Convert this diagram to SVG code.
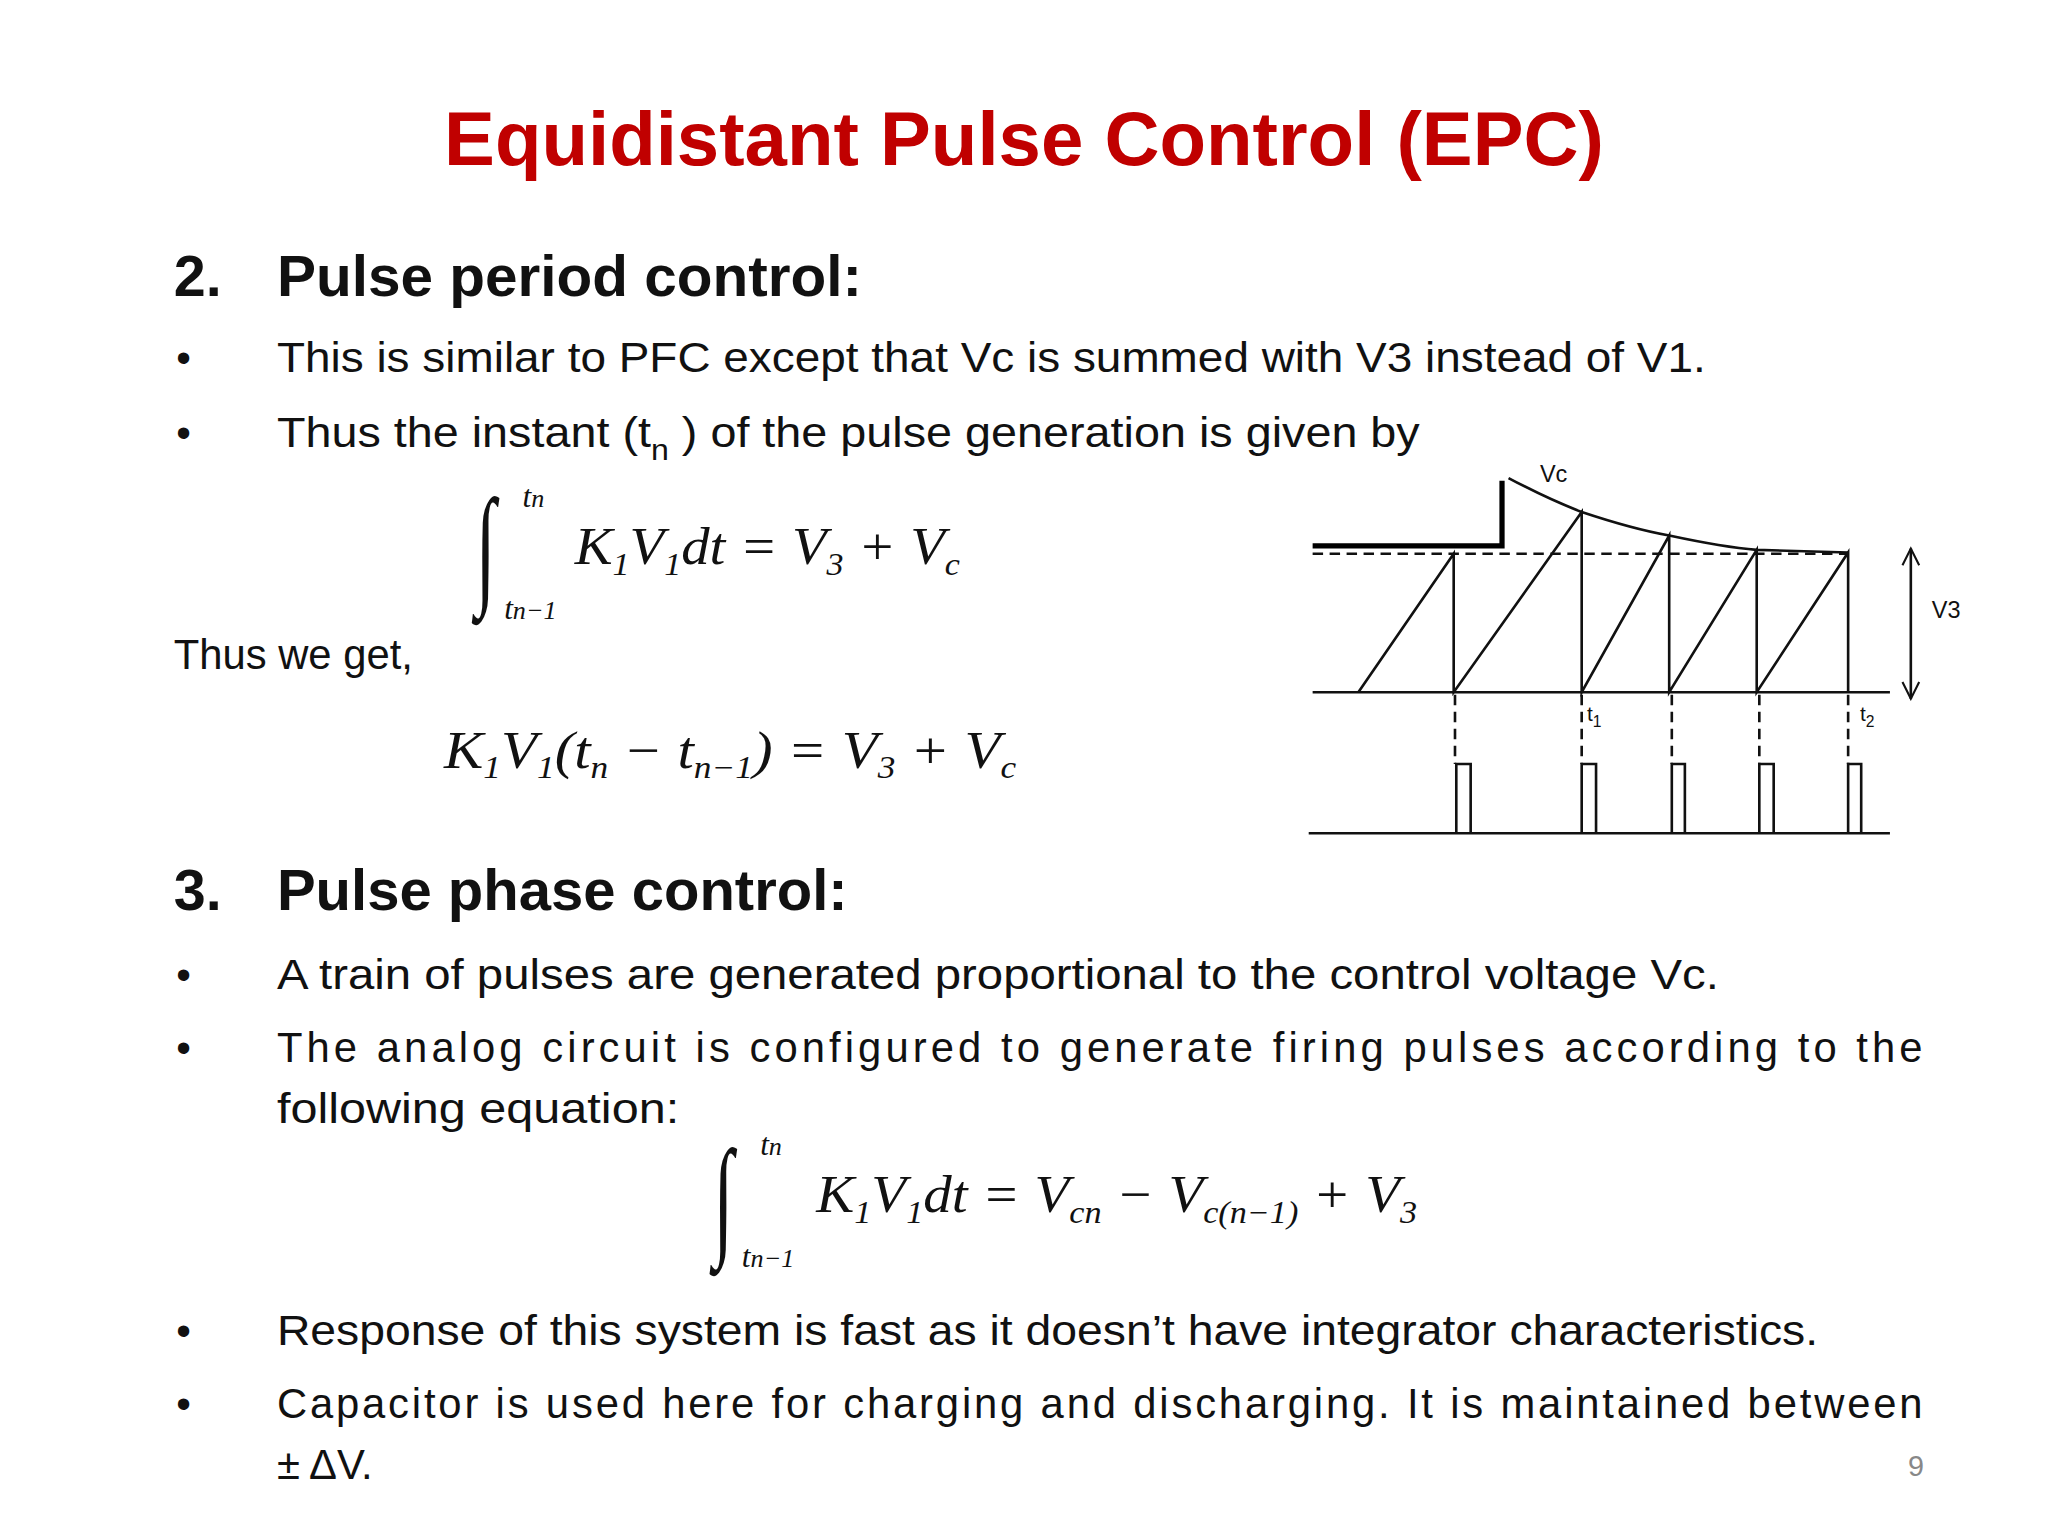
<svg xmlns="http://www.w3.org/2000/svg" width="2048" height="1536" viewBox="0 0 2048 1536">
<style>
.t{font-family:"Liberation Sans",Arial,sans-serif;fill:#111;font-size:32px}
.h{font-family:"Liberation Sans",Arial,sans-serif;fill:#111;font-size:44px;font-weight:bold}
.m{font-family:"Liberation Serif","Times New Roman",serif;font-style:italic;fill:#111;font-size:40px}
.ms{font-size:24px}
.int{font-family:"Liberation Serif",serif;fill:#111;font-size:56px}
.ln{stroke:#111;stroke-width:2;fill:none}
.ds{stroke:#111;stroke-width:2;fill:none;stroke-dasharray:8 5}
.lb{font-family:"Liberation Sans",Arial,sans-serif;fill:#111}
</style>
<defs>
<marker id="ah" viewBox="0 0 20 20" refX="18" refY="10" markerWidth="16" markerHeight="16" markerUnits="userSpaceOnUse" orient="auto-start-reverse"><path d="M2,2 L18,10 L2,18" fill="none" stroke="#111" stroke-width="2"/></marker>
</defs>
<rect width="2048" height="1536" fill="#fff"/>
<g transform="scale(1.3061)">
<text x="784" y="126" text-anchor="middle" font-family="Liberation Sans,Arial,sans-serif" font-weight="bold" font-size="58" fill="#c00000" textLength="888" lengthAdjust="spacingAndGlyphs">Equidistant Pulse Control (EPC)</text>
<text class="h" x="133" y="227">2.</text>
<text class="h" x="212" y="227" textLength="448" lengthAdjust="spacingAndGlyphs">Pulse period control:</text>
<text class="t" x="135" y="285">•</text>
<text class="t" x="212" y="285" textLength="1094" lengthAdjust="spacingAndGlyphs">This is similar to PFC except that Vc is summed with V3 instead of V1.</text>
<text class="t" x="135" y="342">•</text>
<text class="t" x="212" y="342" textLength="875" lengthAdjust="spacingAndGlyphs">Thus the instant (t<tspan font-size="22" dy="10">n</tspan><tspan dy="-10"> ) of the pulse generation is given by</tspan></text>
<g id="eq1">
<text class="int" transform="translate(364,452) scale(1,1.8)">∫</text>
<text class="m ms" x="400" y="388">t<tspan font-size="20">n</tspan></text>
<text class="m ms" x="386" y="474">t<tspan font-size="20">n−1</tspan></text>
<text class="m" x="440" y="432" textLength="295" lengthAdjust="spacingAndGlyphs">K<tspan class="ms" dy="8">1</tspan><tspan dy="-8">V</tspan><tspan class="ms" dy="8">1</tspan><tspan dy="-8">dt = V</tspan><tspan class="ms" dy="8">3</tspan><tspan dy="-8"> + V</tspan><tspan class="ms" dy="8">c</tspan></text>
</g>
<text class="t" x="133" y="512">Thus we get,</text>
<g id="eq2">
<text class="m" x="340" y="588" textLength="438" lengthAdjust="spacingAndGlyphs">K<tspan class="ms" dy="8">1</tspan><tspan dy="-8">V</tspan><tspan class="ms" dy="8">1</tspan><tspan dy="-8">(t</tspan><tspan class="ms" dy="8">n</tspan><tspan dy="-8"> − t</tspan><tspan class="ms" dy="8">n−1</tspan><tspan dy="-8">) = V</tspan><tspan class="ms" dy="8">3</tspan><tspan dy="-8"> + V</tspan><tspan class="ms" dy="8">c</tspan></text>
</g>
<text class="h" x="133" y="697">3.</text>
<text class="h" x="212" y="697" textLength="437" lengthAdjust="spacingAndGlyphs">Pulse phase control:</text>
<text class="t" x="135" y="757">•</text>
<text class="t" x="212" y="757" textLength="1104" lengthAdjust="spacingAndGlyphs">A train of pulses are generated proportional to the control voltage Vc.</text>
<text class="t" x="135" y="813">•</text>
<text class="t" x="212" y="813" textLength="1260" lengthAdjust="spacing">The analog circuit is configured to generate firing pulses according to the</text>
<text class="t" x="212" y="860" textLength="308" lengthAdjust="spacingAndGlyphs">following equation:</text>
<g id="eq3">
<text class="int" transform="translate(546,950) scale(1,1.8)">∫</text>
<text class="m ms" x="582" y="884">t<tspan font-size="20">n</tspan></text>
<text class="m ms" x="568" y="970">t<tspan font-size="20">n−1</tspan></text>
<text class="m" x="625" y="928" textLength="460" lengthAdjust="spacingAndGlyphs">K<tspan class="ms" dy="8">1</tspan><tspan dy="-8">V</tspan><tspan class="ms" dy="8">1</tspan><tspan dy="-8">dt = V</tspan><tspan class="ms" dy="8">cn</tspan><tspan dy="-8"> − V</tspan><tspan class="ms" dy="8">c(n−1)</tspan><tspan dy="-8"> + V</tspan><tspan class="ms" dy="8">3</tspan></text>
</g>
<text class="t" x="135" y="1030">•</text>
<text class="t" x="212" y="1030" textLength="1180" lengthAdjust="spacingAndGlyphs">Response of this system is fast as it doesn’t have integrator characteristics.</text>
<text class="t" x="135" y="1086">•</text>
<text class="t" x="212" y="1086" textLength="1260" lengthAdjust="spacing">Capacitor is used here for charging and discharging. It is maintained between</text>
<text class="t" x="212" y="1132">± ΔV.</text>
<text x="1473" y="1130" text-anchor="end" font-family="Liberation Sans,Arial,sans-serif" font-size="22" fill="#888">9</text>
<g id="waveform">
<path d="M1005,418 H1150 V368" stroke="#000" stroke-width="4" fill="none"/>
<path class="ln" d="M1155,366 Q1185,382 1211,392 Q1250,405 1278,410 Q1320,419 1345,421 L1415,423"/>
<path class="ds" d="M1005,424 H1415"/>
<path class="ln" d="M1005,530 H1447"/>
<path class="ln" d="M1040,530 L1113,424 V530 L1211,392 V530 L1278,410 V530 L1345,421 V530 L1415,423 V530"/>
<path class="ds" d="M1114,532 V585 M1211,532 V585 M1280,532 V585 M1347,532 V585 M1415,532 V585"/>
<path class="ln" d="M1115,637 V585 H1126 V637 M1211,637 V585 H1222 V637 M1280,637 V585 H1290 V637 M1347,637 V585 H1358 V637 M1415,637 V585 H1425 V637"/>
<path class="ln" d="M1002,638 H1447"/>
<text class="lb" x="1215" y="552" font-size="16">t<tspan font-size="12" dy="5">1</tspan></text>
<text class="lb" x="1424" y="552" font-size="16">t<tspan font-size="12" dy="5">2</tspan></text>
<text class="lb" x="1179" y="369" font-size="18">Vc</text>
<line x1="1463" y1="420" x2="1463" y2="535" stroke="#111" stroke-width="2" marker-start="url(#ah)" marker-end="url(#ah)"/>
<text class="lb" x="1479" y="473" font-size="18">V3</text>
</g>
</g>
</svg>
